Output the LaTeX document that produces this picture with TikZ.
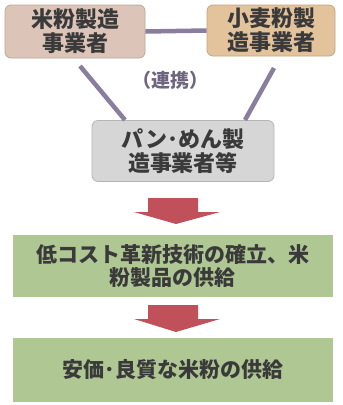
\documentclass[tikz,border=0pt]{standalone}
\usepackage{fontspec}
\setmainfont{Noto Sans CJK JP}
\begin{document}
\begin{tikzpicture}[x=1pt,y=-1pt]
\definecolor{boxA}{HTML}{DCC5B8}
\definecolor{boxB}{HTML}{E3C39C}
\definecolor{boxC}{HTML}{D6D6D6}
\definecolor{greenbox}{HTML}{AFC793}
\definecolor{linkc}{HTML}{8A7E9E}
\definecolor{arrowc}{HTML}{C0505A}
\definecolor{txt}{HTML}{3A3A3A}
\tikzset{
  topbox/.style={rounded corners=6pt, draw=#1!85!black, line width=0.8pt, fill=#1, text=txt, align=center, font=\fontsize{22}{24}\selectfont\bfseries, inner sep=0pt},
  greenrect/.style={fill=greenbox, draw=none, text=txt, align=center, font=\fontsize{21}{23}\selectfont\bfseries, inner sep=0pt},
  link/.style={draw=linkc, line width=4.5pt},
  bigarrow/.style={fill=arrowc, draw=none}
}
\useasboundingbox (0,0) rectangle (343,405);
\fill[white] (0,0) rectangle (343,405);
% top boxes
\node[topbox=boxA, minimum width=140pt, minimum height=53pt] (rice) at (75,31.5) {米粉製造\\事業者};
\node[topbox=boxB, minimum width=128pt, minimum height=51pt] (wheat) at (271,30.5) {小麦粉製\\造事業者};
\node[topbox=boxC, minimum width=182pt, minimum height=61pt] (bread) at (183,151) {パン･めん製\\造事業者等};
\node[text=linkc!80!black, font=\fontsize{19}{20}\selectfont\bfseries] (coop) at (170,80) {（連携）};
% links
\draw[link] (rice.east) -- (wheat.west);
\coordinate (r1) at (80,66);
\coordinate (b1) at (125,120);
\coordinate (w1) at (274,68);
\coordinate (b2) at (245,120);
\draw[link] (r1) -- (b1);
\draw[link] (w1) -- (b2);
% green boxes
\node[greenrect, minimum width=320pt, minimum height=62pt] (tech) at (173,266) {低コスト革新技術の確立、米\\粉製品の供給};
\node[greenrect, minimum width=320pt, minimum height=64pt] (supply) at (173,370) {安価･良質な米粉の供給};
% arrows
\fill[bigarrow] (148,198) -- (198,198) -- (198,212) -- (220,212) -- (176,224) -- (134,212) -- (148,212) -- cycle;
\fill[bigarrow] (148,305) -- (198,305) -- (198,319) -- (220,319) -- (176,332) -- (134,319) -- (148,319) -- cycle;
\end{tikzpicture}
\end{document}
